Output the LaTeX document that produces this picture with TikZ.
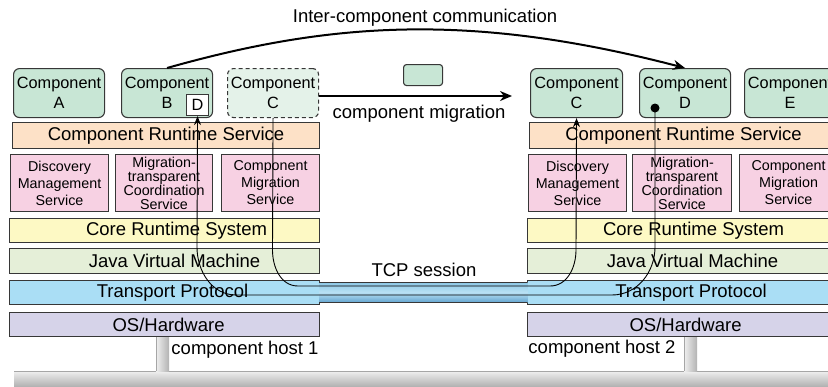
\documentclass[tikz,border=0pt]{standalone}
\usepackage{fontspec}
\setmainfont{Liberation Sans}
\usetikzlibrary{arrows.meta}

\definecolor{compgreen}{RGB}{200,230,213}
\definecolor{compghost}{RGB}{228,242,233}
\definecolor{crsorange}{RGB}{253,225,199}
\definecolor{svcpink}{RGB}{247,209,227}
\definecolor{coreyellow}{RGB}{253,249,196}
\definecolor{jvmgreen}{RGB}{229,239,216}
\definecolor{tpblue}{RGB}{170,222,245}
\definecolor{oslilac}{RGB}{214,211,233}
\definecolor{edge}{RGB}{55,55,55}
\definecolor{tubetop}{RGB}{140,200,230}
\definecolor{tubemid}{RGB}{185,225,244}
\definecolor{tubebot}{RGB}{100,165,208}

\tikzset{
  frame/.style={draw=edge, line width=1.1pt, anchor=north west, inner sep=0pt, align=center},
  comp/.style={frame, fill=compgreen, rounded corners=6pt, minimum width=91pt,
    minimum height=49pt, font=\fontsize{16.3}{20}\selectfont},
  ghost/.style={comp, fill=compghost, dash pattern=on 4pt off 3pt},
  bar/.style={frame, minimum width=310pt, minimum height=24pt, font=\fontsize{18.5}{20}\selectfont},
  svc/.style={frame, fill=svcpink, minimum width=98pt, minimum height=57pt,
    font=\fontsize{14.3}{17}\selectfont},
  tightsvc/.style={svc, font=\fontsize{14.3}{14}\selectfont},
  lbl/.style={anchor=base, inner sep=0pt, font=\fontsize{18.5}{20}\selectfont},
  route/.style={draw=black, line width=0.9pt},
  routetip/.style={route, -{Stealth[length=9pt,width=7pt]}},
  bigarrow/.style={draw=black, line width=2pt, -{Stealth[length=12pt,width=10pt]}},
  pole/.style={left color=gray!12, right color=gray!60},
  poleedge/.style={draw=gray!70, line width=0.8pt},
}

\begin{document}
\begin{tikzpicture}[x=1pt,y=-1pt]
\useasboundingbox (0,0) rectangle (828,386);
\clip (0,0) rectangle (828,386);

% network bus and the two host poles
\shade[top color=gray!12, bottom color=gray!60] (14,371) rectangle (828,386);
\draw[poleedge] (14,371) -- (828,371);
\shade[pole] (156,336) rectangle (169,371);
\draw[poleedge] (156,336) -- (156,371);
\shade[pole] (684,336) rectangle (697,371);
\draw[poleedge] (684,336) -- (684,371);

% host 1 software stack
\node[bar, fill=crsorange, minimum width=307pt, minimum height=26pt] (crs1) at (12,122) {Component Runtime Service};
\node[svc] (dms1) at (10,154) {Discovery\\Management\\Service};
\node[tightsvc, minimum width=97pt] (mtc1) at (115,154) {Migration-\\transparent\\Coordination\\Service};
\node[svc] (cms1) at (221,154) {Component\\Migration\\Service};
\node[bar, fill=coreyellow] (core1) at (9,218) {\hspace*{24pt}Core Runtime System};
\node[bar, fill=jvmgreen, minimum height=25pt] (jvm1) at (9,248) {\hspace*{20pt}Java Virtual Machine};
\node[bar, fill=tpblue] (tp1) at (9,280) {\hspace*{16pt}Transport Protocol};
\node[bar, fill=oslilac] (os1) at (9,312) {\hspace*{8pt}OS/Hardware};

% host 2 software stack
\node[bar, fill=crsorange, minimum width=308pt, minimum height=26pt] (crs2) at (529,122) {Component Runtime Service};
\node[svc] (dms2) at (528,154) {Discovery\\Management\\Service};
\node[tightsvc, minimum width=99pt] (mtc2) at (632,154) {Migration-\\transparent\\Coordination\\Service};
\node[svc] (cms2) at (739,154) {Component\\Migration\\Service};
\node[bar, fill=coreyellow] (core2) at (527,218) {\hspace*{22pt}Core Runtime System};
\node[bar, fill=jvmgreen, minimum height=25pt] (jvm2) at (527,248) {\hspace*{20pt}Java Virtual Machine};
\node[bar, fill=tpblue] (tp2) at (527,280) {\hspace*{17pt}Transport Protocol};
\node[bar, fill=oslilac] (os2) at (527,312) {\hspace*{6pt}OS/Hardware};

% TCP session tube between the transport layers
\node[anchor=north west, inner sep=0pt, minimum width=208pt, minimum height=20pt] (tube) at (319,282) {};
\shade[top color=tubetop, bottom color=tubebot, middle color=tubemid] (tube.north west) rectangle (tube.south east);
\draw[edge, line width=1pt] (tube.north west) -- (tube.north east);
\draw[edge, line width=1pt] (tube.south west) -- (tube.south east);

% components
\node[comp] (cA) at (13,68) {Component\\A};
\node[comp] (cB) at (121,68) {Component\\B};
\node[frame, fill=white, minimum width=22pt, minimum height=21pt, font=\fontsize{16.3}{20}\selectfont] (dbox) at (186,94) {D};
\node[ghost] (cCold) at (227,68) {Component\\C};
\node[comp, minimum width=92pt] (cCnew) at (530,68) {Component\\C};
\node[comp] (cD) at (639,68) {Component\\D};
\node[comp] (cE) at (744,68) {Component\\E};
\node[frame, fill=compgreen, rounded corners=3pt, minimum width=39pt, minimum height=21pt] (token) at (403,64) {};
\node[circle, fill=black, inner sep=0pt, minimum size=9pt] (dot) at (655,108) {};

% labels
\node[lbl] (icc) at (425,22) {Inter-component communication};
\node[lbl] (mig) at (419,118) {component migration};
\node[lbl] (tcp) at (424,276) {TCP session};
\node[lbl] (h1) at (245,354) {component host 1};
\node[lbl] (h2) at (602,353) {component host 2};

% migration arrow and inter-component communication
\coordinate (migEnd) at (512,96);
\draw[bigarrow] (cCold.east |- migEnd) -- (migEnd);
\draw[bigarrow] (cB.north) .. controls (330,22) and (470,12) .. (cD.north);

% routes through the stacks and the TCP session
\draw[routetip] (cCold.south) -- (272.5,250) to[out=-90,in=180] (298,286)
  -- (550,286) to[out=0,in=-90] (576,250) -- (cCnew.south);
\draw[routetip] (dot.center) -- (655,247) to[out=-90,in=0] (612,295)
  -- (236,295) to[out=180,in=-90] (197,247) -- (dbox.south);
\end{tikzpicture}
\end{document}
